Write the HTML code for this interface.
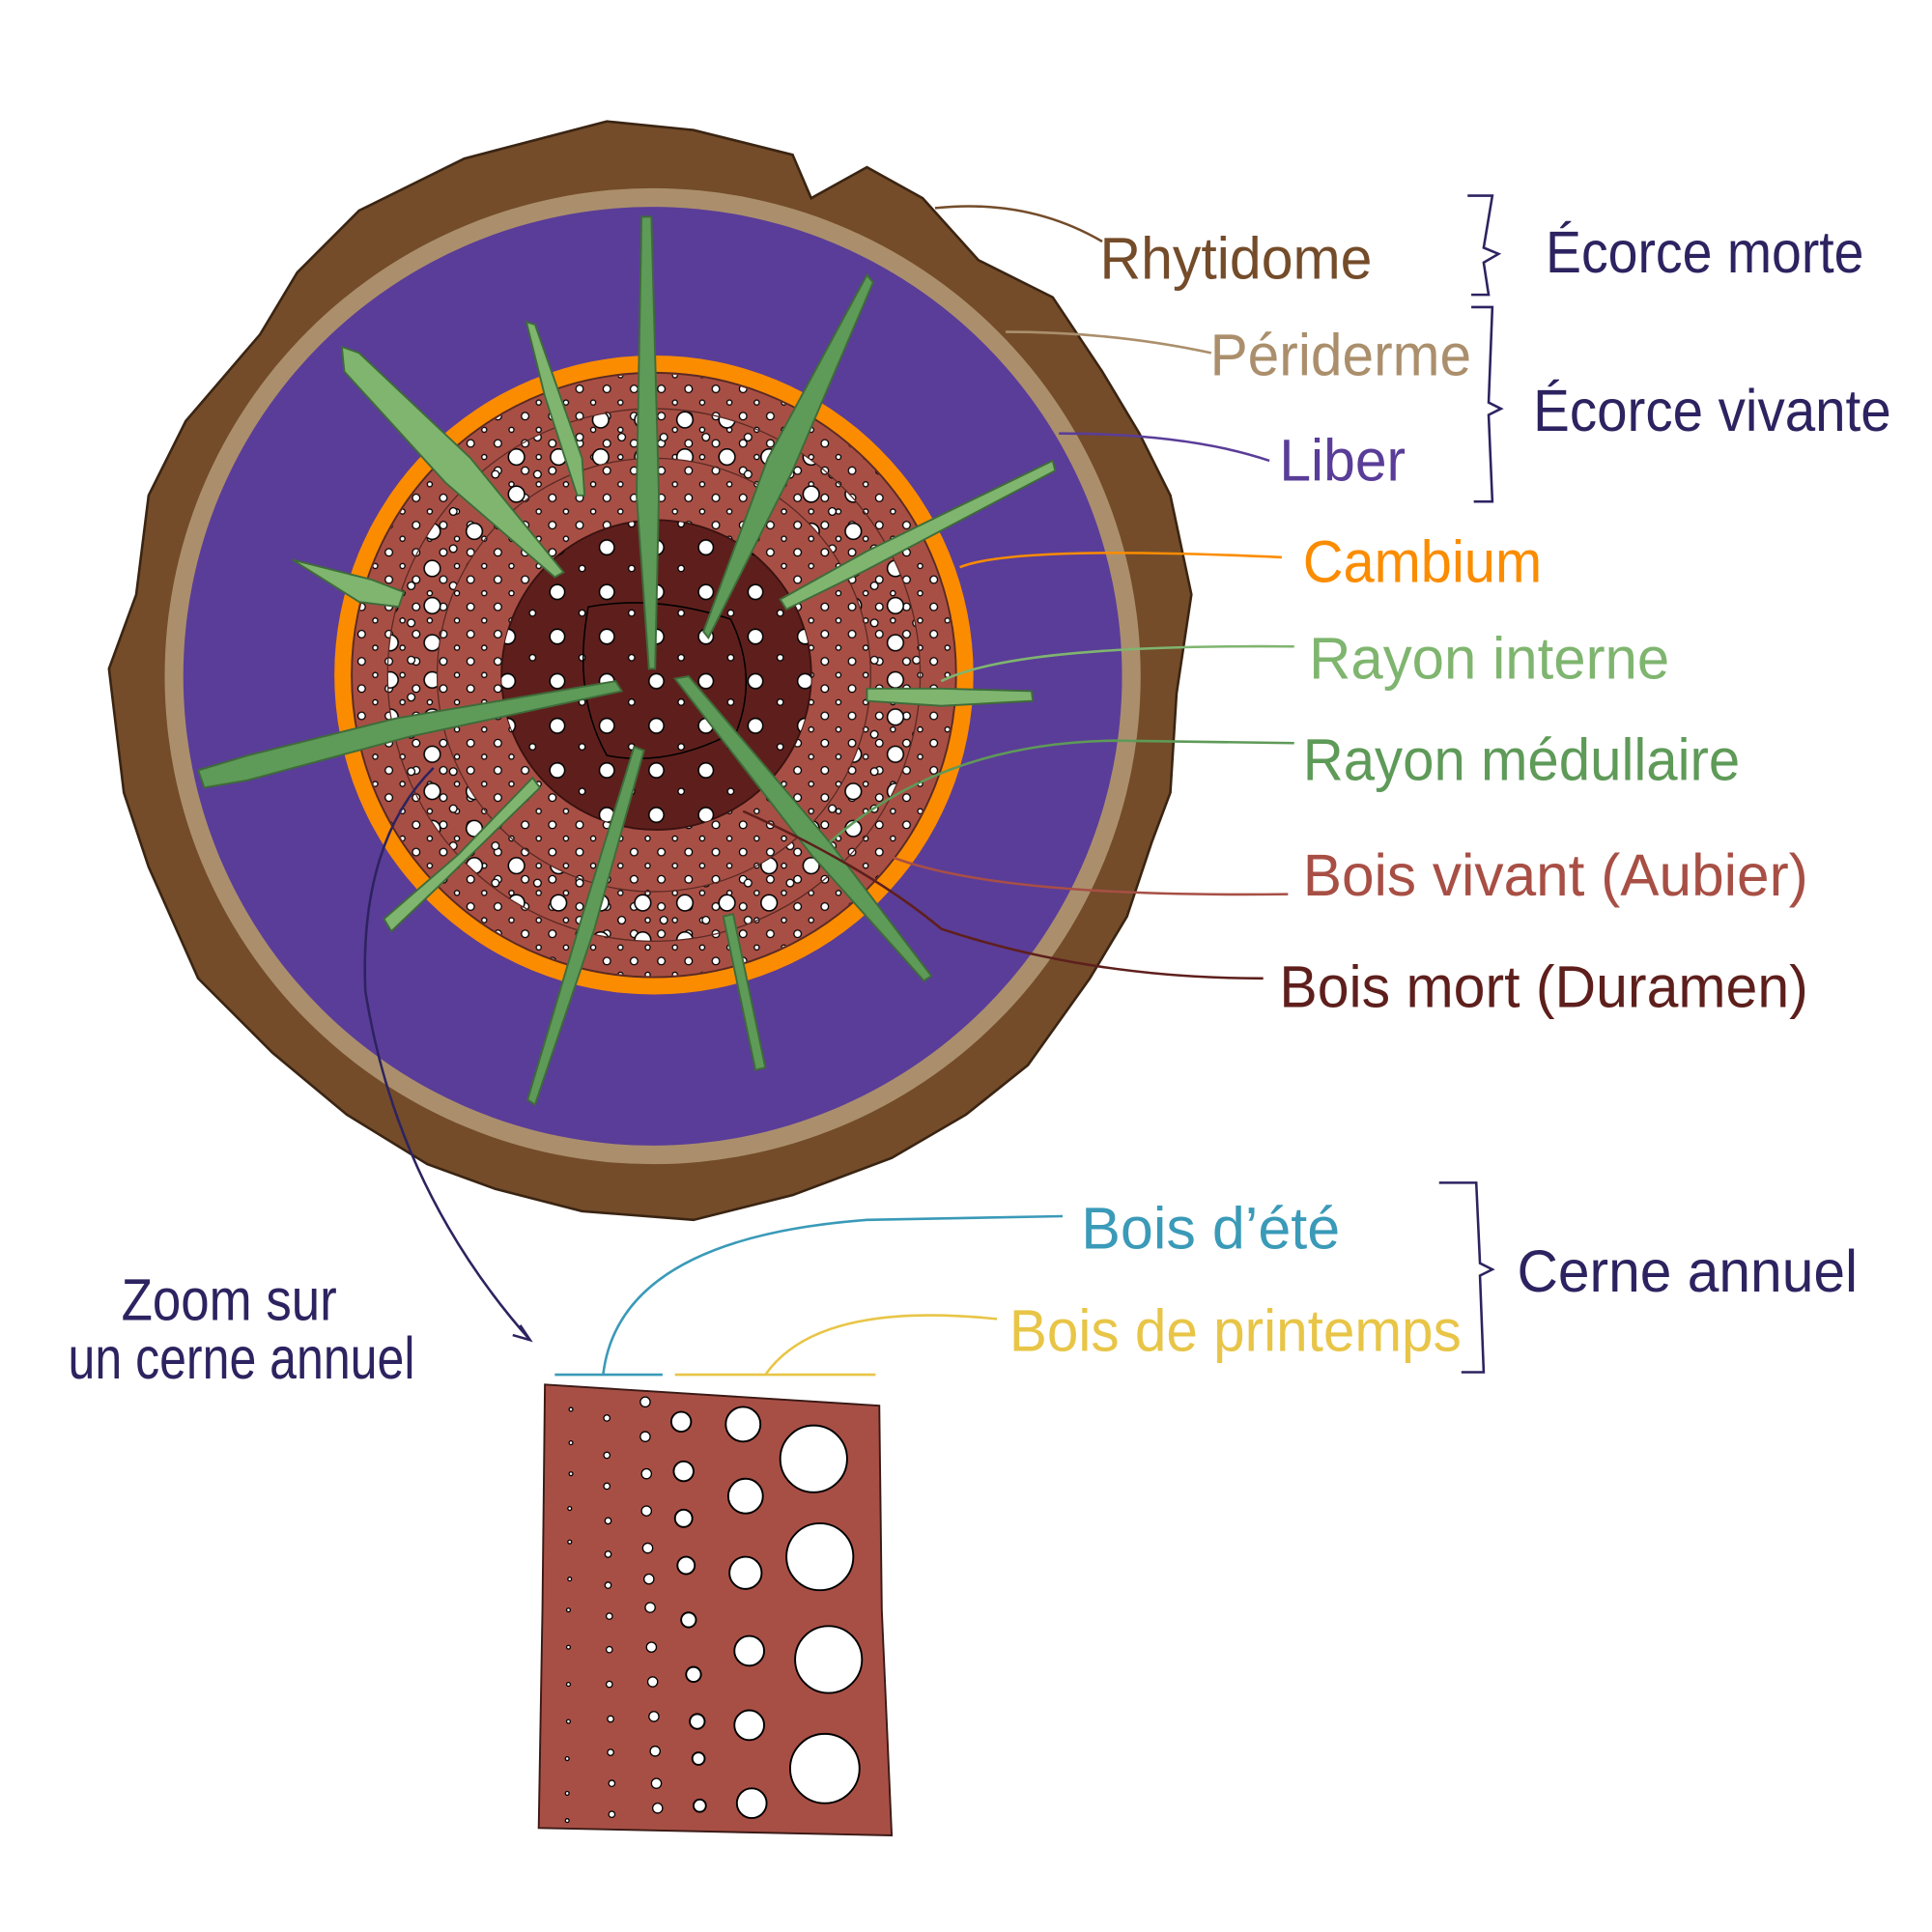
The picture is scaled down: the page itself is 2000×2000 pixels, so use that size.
<!DOCTYPE html>
<html><head><meta charset="utf-8"><style>
html,body{margin:0;padding:0;background:#fff}
svg{display:block}
text{font-family:"Liberation Sans",sans-serif;font-size:48px}
</style></head><body>
<svg width="2000" height="2000" viewBox="0 0 1560 1560" xmlns="http://www.w3.org/2000/svg">
<defs>
<pattern id="dots1" width="22" height="22" patternUnits="userSpaceOnUse">
<circle cx="6" cy="6" r="3" fill="#fff" stroke="#000" stroke-width="1"/>
<circle cx="17" cy="17" r="2" fill="#fff" stroke="#000" stroke-width="1"/>
</pattern>
<pattern id="dots2" width="34" height="30" patternUnits="userSpaceOnUse">
<circle cx="9" cy="9" r="6.5" fill="#fff" stroke="#000" stroke-width="1.2"/>
<circle cx="26" cy="23" r="3" fill="#fff" stroke="#000" stroke-width="1"/>
</pattern>
<pattern id="dots3" width="40" height="36" patternUnits="userSpaceOnUse">
<circle cx="10" cy="10" r="6" fill="#fff" stroke="#000" stroke-width="1.2"/>
<circle cx="30" cy="27" r="2.5" fill="#fff" stroke="#000" stroke-width="1"/>
</pattern>
<clipPath id="sap"><path fill-rule="evenodd" d="M528,545m-243,0a243,243 0 1,0 486,0a243,243 0 1,0 -486,0M530,545m-125,0a125,125 0 1,1 250,0a125,125 0 1,1 -250,0"/></clipPath>
<clipPath id="heart"><circle cx="530" cy="545" r="125"/></clipPath>
</defs>
<path d="M375,128 L490,98 L560,105 L640,125 L655,160 L700,135 L745,160 L790,210 L850,240 L890,300 L920,350 L945,400 L962,480 L950,560 L945,640 L930,680 L910,740 L880,790 L830,860 L780,900 L720,935 L640,965 L560,985 L470,978 L400,960 L345,940 L280,900 L220,850 L160,790 L120,700 L100,640 L88,540 L110,480 L120,400 L150,340 L210,270 L240,220 L290,170 Z" fill="#744c2a" stroke="#3a2412" stroke-width="2"/>
<circle cx="527" cy="546" r="394" fill="#ab8f6c"/>
<circle cx="527" cy="546" r="379" fill="#5a3d98"/>
<circle cx="528" cy="545" r="258" fill="#fb8c00"/>
<circle cx="528" cy="545" r="244" fill="#a84f45" stroke="#5a2a24" stroke-width="1.5"/>
<g clip-path="url(#sap)"><rect x="280" y="300" width="500" height="500" fill="url(#dots1)"/>
<circle cx="528" cy="545" r="195" fill="none" stroke="url(#dots2)" stroke-width="40"/></g>
<circle cx="528" cy="545" r="215" fill="none" stroke="#5a2a24" stroke-width="1"/>
<circle cx="528" cy="545" r="175" fill="none" stroke="#5a2a24" stroke-width="1"/>
<circle cx="530" cy="545" r="125" fill="#5e1f1c" stroke="#3a1210" stroke-width="1.5"/>
<g clip-path="url(#heart)"><rect x="400" y="415" width="260" height="260" fill="url(#dots3)"/></g>
<path d="M475,490 Q530,480 590,500 Q612,545 595,590 Q540,620 490,610 Q462,560 475,490 Z" fill="none" stroke="#000" stroke-width="1.2"/>
<g stroke="#3f6b3a" stroke-width="1.5" stroke-linecap="round">
<path d="M518,175 L526,175 L532,400 L529,540 L524,540 L514,400 Z" fill="#5e9a58"/>
<path d="M700,222 L705,228 L640,380 L572,515 L568,510 L620,370 Z" fill="#5e9a58"/>
<path d="M850,372 L852,380 L700,460 L635,492 L630,484 L700,445 Z" fill="#7fb56f"/>
<path d="M833,558 L834,566 L760,570 L700,566 L700,556 L760,556 Z" fill="#7fb56f"/>
<path d="M545,548 L556,546 L670,680 L752,788 L746,792 L655,690 Z" fill="#5e9a58"/>
<path d="M584,740 L592,738 L618,862 L610,864 Z" fill="#5e9a58"/>
<path d="M512,603 L520,606 L480,750 L432,892 L426,888 L470,740 Z" fill="#5e9a58"/>
<path d="M430,628 L436,636 L360,710 L316,752 L310,742 L370,690 Z" fill="#7fb56f"/>
<path d="M497,550 L502,558 L330,595 L200,630 L165,636 L160,622 L200,610 L320,580 Z" fill="#5e9a58"/>
<path d="M236,452 L300,468 L326,478 L322,490 L290,486 Z" fill="#7fb56f"/>
<path d="M276,280 L290,285 L380,370 L455,462 L448,466 L360,390 L278,300 Z" fill="#7fb56f"/>
<path d="M425,260 L432,262 L470,370 L472,400 L466,400 L440,320 Z" fill="#7fb56f"/>
</g>
<g fill="none" stroke-width="2">
<path d="M755,168 Q830,160 890,195" stroke="#744c2a"/>
<path d="M812,268 Q900,268 978,285" stroke="#ab8f6c"/>
<path d="M855,350 Q960,350 1025,372" stroke="#5a3d98"/>
<path d="M775,458 Q820,440 1035,450" stroke="#fb8c00"/>
<path d="M760,550 Q820,520 1045,522" stroke="#7fb56f"/>
<path d="M670,680 Q760,600 900,598 L1045,600" stroke="#5e9a58"/>
<path d="M715,690 Q800,725 1040,722" stroke="#a84f45"/>
<path d="M600,655 Q700,700 760,750 Q880,790 1020,790" stroke="#5e1f1c"/>
<path d="M487,1110 Q500,1000 700,985 L858,982" stroke="#3a9ab8"/>
<path d="M618,1110 Q660,1050 805,1065" stroke="#e8c547"/>
<path d="M448,1110 L535,1110" stroke="#3a9ab8"/>
<path d="M545,1110 L707,1110" stroke="#e8c547"/>
<path d="M350,620 Q290,680 295,800 Q320,960 428,1082" stroke="#2d2360"/>
<path d="M420,1070 L428,1082 L414,1078" stroke="#2d2360"/>
<path d="M1185,158 L1205,158 L1198,200 L1210,205 L1198,212 L1202,238 L1188,238" stroke="#2d2360"/>
<path d="M1188,248 L1205,248 L1202,325 L1212,330 L1202,335 L1205,405 L1190,405" stroke="#2d2360"/>
<path d="M1162,955 L1192,955 L1195,1020 L1205,1025 L1195,1030 L1198,1108 L1180,1108" stroke="#2d2360"/>
</g>
<g lengthAdjust="spacingAndGlyphs">
<text x="888" y="225" fill="#744c2a" textLength="220" lengthAdjust="spacingAndGlyphs">Rhytidome</text>
<text x="977" y="303" fill="#ab8f6c" textLength="211" lengthAdjust="spacingAndGlyphs">Périderme</text>
<text x="1033" y="388" fill="#5a3d98" textLength="102" lengthAdjust="spacingAndGlyphs">Liber</text>
<text x="1052" y="470" fill="#fb8c00" textLength="193" lengthAdjust="spacingAndGlyphs">Cambium</text>
<text x="1057" y="548" fill="#7fb56f" textLength="291" lengthAdjust="spacingAndGlyphs">Rayon interne</text>
<text x="1052" y="630" fill="#5e9a58" textLength="353" lengthAdjust="spacingAndGlyphs">Rayon médullaire</text>
<text x="1052" y="723" fill="#a84f45" textLength="408" lengthAdjust="spacingAndGlyphs">Bois vivant (Aubier)</text>
<text x="1033" y="813" fill="#5e1f1c" textLength="427" lengthAdjust="spacingAndGlyphs">Bois mort (Duramen)</text>
<text x="1248" y="220" fill="#2d2360" textLength="257" lengthAdjust="spacingAndGlyphs">Écorce morte</text>
<text x="1238" y="348" fill="#2d2360" textLength="289" lengthAdjust="spacingAndGlyphs">Écorce vivante</text>
<text x="873" y="1008" fill="#3a9ab8" textLength="209" lengthAdjust="spacingAndGlyphs">Bois d’été</text>
<text x="815" y="1091" fill="#e8c547" textLength="365" lengthAdjust="spacingAndGlyphs">Bois de printemps</text>
<text x="1225" y="1043" fill="#2d2360" textLength="275" lengthAdjust="spacingAndGlyphs">Cerne annuel</text>
<text x="98" y="1066" fill="#2d2360" font-size="40" textLength="174" lengthAdjust="spacingAndGlyphs">Zoom sur</text>
<text x="55" y="1113" fill="#2d2360" font-size="40" textLength="280" lengthAdjust="spacingAndGlyphs">un cerne annuel</text>
</g>
<path d="M440,1118 L710,1135 L712,1300 L720,1482 L435,1476 L438,1300 Z" fill="#a84f45" stroke="#3a1a16" stroke-width="1.5"/>
<g fill="#fff" stroke="#000" stroke-width="1.5">
<circle cx="657" cy="1178" r="27"/><circle cx="662" cy="1257" r="27"/><circle cx="669" cy="1340" r="27"/><circle cx="666" cy="1428" r="28"/>
<circle cx="600" cy="1150" r="14"/><circle cx="602" cy="1208" r="14"/><circle cx="602" cy="1270" r="13"/><circle cx="605" cy="1333" r="12"/><circle cx="605" cy="1393" r="12"/><circle cx="607" cy="1456" r="12"/>
<circle cx="550" cy="1148" r="8"/><circle cx="552" cy="1188" r="8"/><circle cx="552" cy="1226" r="7"/><circle cx="554" cy="1264" r="7"/><circle cx="556" cy="1308" r="6"/><circle cx="560" cy="1352" r="6"/><circle cx="563" cy="1390" r="6"/><circle cx="564" cy="1420" r="5"/><circle cx="565" cy="1458" r="5"/>
</g>
<g fill="#fff" stroke="#000" stroke-width="1">
<circle cx="521" cy="1132" r="4"/><circle cx="521" cy="1160" r="4"/><circle cx="522" cy="1190" r="4"/><circle cx="522" cy="1220" r="4"/><circle cx="523" cy="1250" r="4"/><circle cx="524" cy="1275" r="4"/><circle cx="525" cy="1298" r="4"/><circle cx="526" cy="1330" r="4"/><circle cx="527" cy="1358" r="4"/><circle cx="528" cy="1386" r="4"/><circle cx="529" cy="1414" r="4"/><circle cx="530" cy="1440" r="4"/><circle cx="531" cy="1460" r="4"/>
<circle cx="490" cy="1145" r="2.5"/><circle cx="490" cy="1175" r="2.5"/><circle cx="490" cy="1200" r="2.5"/><circle cx="491" cy="1228" r="2.5"/><circle cx="491" cy="1255" r="2.5"/><circle cx="491" cy="1280" r="2.5"/><circle cx="492" cy="1305" r="2.5"/><circle cx="492" cy="1332" r="2.5"/><circle cx="492" cy="1360" r="2.5"/><circle cx="493" cy="1388" r="2.5"/><circle cx="493" cy="1415" r="2.5"/><circle cx="494" cy="1440" r="2.5"/><circle cx="494" cy="1465" r="2.5"/>
<circle cx="461" cy="1138" r="1.5"/><circle cx="461" cy="1165" r="1.5"/><circle cx="461" cy="1190" r="1.5"/><circle cx="460" cy="1218" r="1.5"/><circle cx="460" cy="1245" r="1.5"/><circle cx="460" cy="1275" r="1.5"/><circle cx="459" cy="1300" r="1.5"/><circle cx="459" cy="1330" r="1.5"/><circle cx="459" cy="1360" r="1.5"/><circle cx="459" cy="1390" r="1.5"/><circle cx="458" cy="1420" r="1.5"/><circle cx="458" cy="1448" r="1.5"/><circle cx="458" cy="1470" r="1.5"/>
</g>
</svg>
</body></html>
